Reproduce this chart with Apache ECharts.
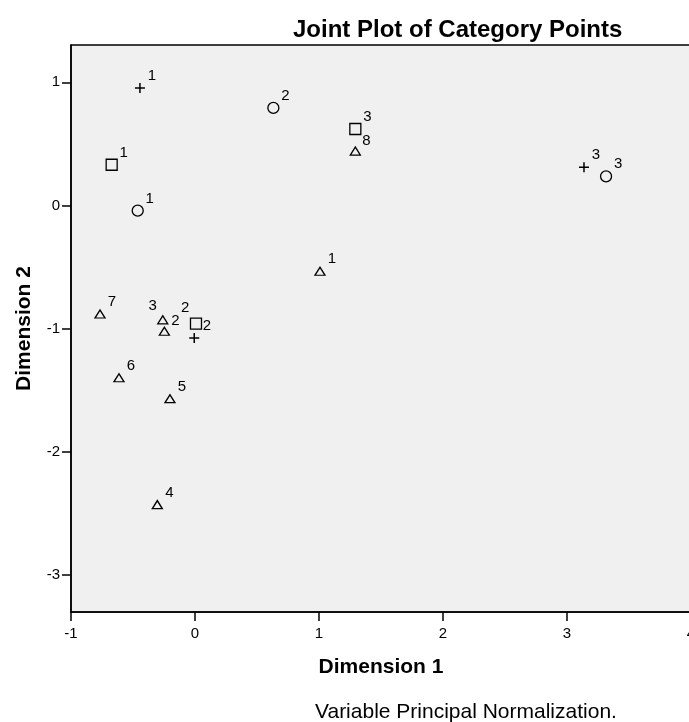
<!DOCTYPE html>
<html>
<head>
<meta charset="utf-8">
<script src="https://cdn.jsdelivr.net/npm/echarts@6/dist/echarts.min.js"></script>
<style>
html,body{margin:0;padding:0;background:#fff;}
#chart{width:689px;height:722px;}
</style>
</head>
<body>
<div id="chart"></div>
<script>
// ---- data ----
var plusX = [-0.444, -0.006, 3.137];
var plusY = [0.954, -1.075, 0.310];
var plusLabels = ['1', '2', '3'];

var circleX = [-0.462, 0.632, 3.315];
var circleY = [-0.042, 0.792, 0.237];
var circleLabels = ['1', '2', '3'];

var squareX = [-0.672, 0.008, 1.293];
var squareY = [0.331, -0.959, 0.621];
var squareLabels = ['1', '2', '3'];

var triX = [1.008, -0.247, -0.260, -0.304, -0.202, -0.613, -0.766, 1.293];
var triY = [-0.534, -1.021, -0.928, -2.428, -1.568, -1.398, -0.881, 0.442];
var triLabels = ['1', '2', '3', '4', '5', '6', '7', '8'];

var xTicks = [-1, 0, 1, 2, 3, 4];
var yTicks = [-3, -2, -1, 0, 1];

// ---- label placement (style, not data) ----
var defaultOffset = [12, -12];
var offsetOverrides = {
  plus: {1: [-9, -30]},
  square: {1: [11, 2]},
  tri: {1: [11, -10], 2: [-10, -14], 7: [11, -10]}
};

var FONT = 'Arial, "Liberation Sans", Helvetica, sans-serif';

function buildData(xs, ys, labels, key) {
  return xs.map(function (x, i) {
    var off = (offsetOverrides[key] && offsetOverrides[key][i]) || defaultOffset;
    return {
      value: [x, ys[i]],
      name: labels[i],
      label: {offset: off}
    };
  });
}

function makeSeries(key, xs, ys, labels, symbol, size, bw) {
  return {
    type: 'scatter',
    name: key,
    symbol: symbol,
    symbolSize: size,
    data: buildData(xs, ys, labels, key),
    itemStyle: {color: 'transparent', borderColor: '#000', borderWidth: bw, opacity: 1},
    label: {
      show: true,
      position: 'inside',
      formatter: '{b}',
      color: '#000',
      fontSize: 15,
      fontFamily: FONT,
      align: 'center',
      verticalAlign: 'middle'
    },
    emphasis: {disabled: true},
    z: 3
  };
}

var chart = echarts.init(document.getElementById('chart'), null, {renderer: 'canvas'});
chart.setOption({
  backgroundColor: '#fff',
  animation: false,
  title: {
    text: 'Joint Plot of Category Points',
    left: 293,
    top: 18,
    padding: 0,
    textStyle: {fontFamily: FONT, fontWeight: 'bold', fontSize: 24, color: '#000'}
  },
  graphic: [{
    type: 'text',
    left: 315,
    top: 702,
    style: {text: 'Variable Principal Normalization.', font: '21px ' + FONT, fill: '#000'}
  }],
  grid: {
    left: 71,
    top: 45,
    width: 620,
    height: 567,
    outerBoundsMode: 'none',
    containLabel: false,
    show: true,
    backgroundColor: '#f0f0f0',
    borderColor: '#000',
    borderWidth: 1.5
  },
  xAxis: {
    type: 'value',
    min: -1,
    max: 4,
    interval: 1,
    name: 'Dimension 1',
    nameLocation: 'middle',
    nameGap: 45,
    nameTextStyle: {fontFamily: FONT, fontWeight: 'bold', fontSize: 21, color: '#000'},
    axisLine: {show: true, onZero: false, lineStyle: {color: '#000', width: 1.5}},
    axisTick: {show: true, inside: false, length: 9, lineStyle: {color: '#000', width: 1.5}, customValues: xTicks},
    axisLabel: {show: true, margin: 14, fontSize: 15, fontFamily: FONT, color: '#000', customValues: xTicks, showMaxLabel: true, showMinLabel: true},
    splitLine: {show: false}
  },
  yAxis: {
    type: 'value',
    min: -3.2995,
    max: 1.3028,
    name: 'Dimension 2',
    nameLocation: 'middle',
    nameGap: 36,
    nameRotate: 90,
    nameTextStyle: {fontFamily: FONT, fontWeight: 'bold', fontSize: 21, color: '#000'},
    axisLine: {show: true, onZero: false, lineStyle: {color: '#000', width: 1.5}},
    axisTick: {show: true, inside: false, length: 9, lineStyle: {color: '#000', width: 1.5}, customValues: yTicks},
    axisLabel: {show: true, margin: 11, fontSize: 15, fontFamily: FONT, color: '#000', customValues: yTicks},
    splitLine: {show: false}
  },
  series: [
    makeSeries('plus', plusX, plusY, plusLabels, 'path://M0,5L10,5M5,0L5,10', 10, 1.5),
    makeSeries('circle', circleX, circleY, circleLabels, 'circle', 11, 1.3),
    makeSeries('square', squareX, squareY, squareLabels, 'rect', 11, 1.3),
    makeSeries('tri', triX, triY, triLabels, 'triangle', [10, 8], 1.3)
  ]
});
</script>
</body>
</html>
